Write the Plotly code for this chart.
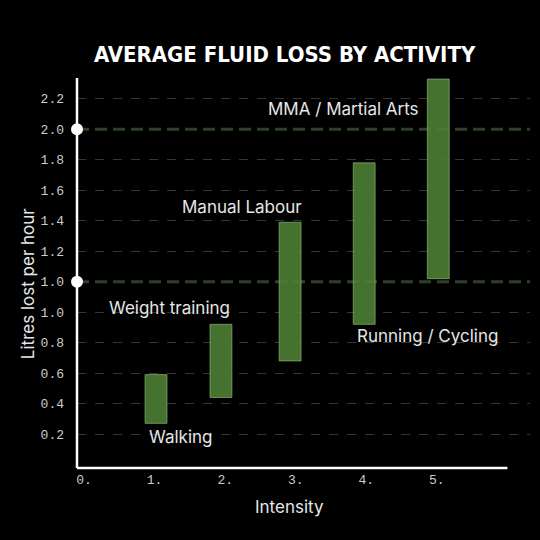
import plotly.graph_objects as go

# activities, intensity position and the low / high fluid loss of each bar
activities = ["Walking", "Weight training", "Manual Labour", "Running / Cycling", "MMA / Martial Arts"]
intensity = [1.02, 1.94, 2.92, 3.97, 5.02]
loss_low = [0.07, 0.24, 0.48, 0.72, 1.02]
loss_high = [0.39, 0.72, 1.39, 1.78, 2.33]

# reference levels marked with dots on the axis
reference_levels = [1.0, 2.0]

# axis ticks as printed on the chart
x_ticks = [0, 1, 2, 3, 4, 5]
x_tick_labels = ["0.", "1.", "2.", "3.", "4.", "5."]
y_ticks = [0.0, 0.2, 0.4, 0.6, 0.8, 1.0, 1.2, 1.4, 1.6, 1.8, 2.0, 2.2]
y_tick_labels = ["0.2", "0.4", "0.6", "0.8", "1.0", "1.0", "1.2", "1.4", "1.6", "1.8", "2.0", "2.2"]

X_RANGE = [-0.1, 6.32]
Y_RANGE = [-0.223, 2.337]

# where each label sits relative to its bar: (end of bar, xshift, yshift)
label_offsets = {
    "Walking": ("low", 24, -14),
    "Weight training": ("high", -51, 16),
    "Manual Labour": ("high", -48, 15),
    "Running / Cycling": ("low", 63, -12),
    "MMA / Martial Arts": ("high", -95, -30),
}

LABEL_FONT = dict(family="Inter", size=17, color="#e6e6e6")

fig = go.Figure()

# floating bars
fig.add_trace(go.Bar(
    x=intensity,
    y=[h - l for l, h in zip(loss_low, loss_high)],
    base=loss_low,
    width=0.31,
    marker=dict(color="rgba(76,128,52,0.9)", line=dict(color="rgba(140,180,120,0.7)", width=1)),
    hoverinfo="skip",
    showlegend=False,
))

# dashed reference lines
for level in reference_levels:
    fig.add_shape(type="line", xref="paper", yref="y", x0=0, x1=1, y0=level, y1=level,
                  line=dict(color="#2b4424", width=3, dash="12px,6px"), layer="below")

# axis lines (x one is shorter than the plot area)
fig.add_shape(type="line", xref="x", yref="paper", x0=X_RANGE[0], x1=6.0, y0=0, y1=0,
              line=dict(color="white", width=2.5))
fig.add_shape(type="line", xref="paper", yref="paper", x0=0, x1=0, y0=0, y1=1,
              line=dict(color="white", width=2.5))

# white dots on the y axis
fig.add_trace(go.Scatter(
    x=[X_RANGE[0]] * len(reference_levels),
    y=reference_levels,
    mode="markers",
    marker=dict(color="white", size=12),
    cliponaxis=False,
    hoverinfo="skip",
    showlegend=False,
))

for name, x, lo, hi in zip(activities, intensity, loss_low, loss_high):
    end, dx, dy = label_offsets[name]
    fig.add_annotation(
        x=x, y=lo if end == "low" else hi, text=name, showarrow=False,
        xshift=dx, yshift=dy, yanchor="middle", font=LABEL_FONT,
    )

# axis titles
fig.add_annotation(text="Intensity", xref="paper", yref="paper", x=0.47, y=0,
                   yshift=-39, xanchor="center", yanchor="middle", showarrow=False, font=LABEL_FONT)
fig.add_annotation(text="Litres lost per hour", xref="paper", yref="paper", x=0, y=0.474,
                   xshift=-49, xanchor="center", yanchor="middle", textangle=-90,
                   showarrow=False, font=LABEL_FONT)

fig.update_layout(
    width=540,
    height=540,
    paper_bgcolor="black",
    plot_bgcolor="black",
    margin=dict(l=77, r=10, t=78, b=72),
    title=dict(
        text="<b>AVERAGE FLUID LOSS BY ACTIVITY</b>",
        x=0.527, xanchor="center", y=0.9, yanchor="middle",
        font=dict(family="DejaVu Sans Condensed", size=22, color="white"),
    ),
    xaxis=dict(
        range=X_RANGE,
        tickvals=x_ticks,
        ticktext=x_tick_labels,
        tickfont=dict(family="Liberation Mono", size=13, color="#cccccc"),
        showgrid=False,
        zeroline=False,
        showline=False,
        ticks="",
        ticklabelstandoff=2,
    ),
    yaxis=dict(
        range=Y_RANGE,
        tickvals=y_ticks,
        ticktext=y_tick_labels,
        tickfont=dict(family="Liberation Mono", size=13, color="#cccccc"),
        showgrid=True,
        gridcolor="#363636",
        griddash="dash",
        gridwidth=1,
        zeroline=False,
        showline=False,
        ticks="",
        ticklabelstandoff=12,
    ),
)

fig.write_html("out.html", config={"displayModeBar": False},
               post_script="document.body.style.margin = '0';")
